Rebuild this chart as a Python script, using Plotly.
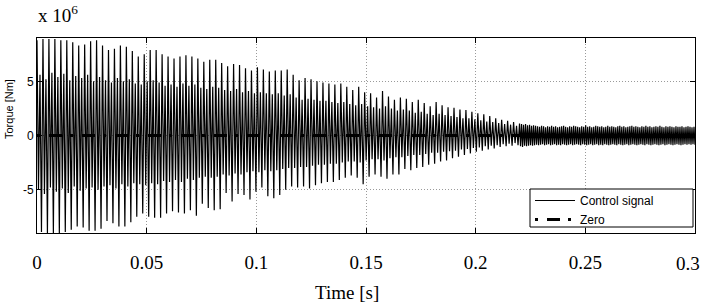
import numpy as np
import plotly.graph_objects as go

# Transient part (0 - 0.22 s): per-cycle extremes (units: 1e6 Nm)
peak_hi = [8.8, 8.9, 8.9, 8.9, 8.8, 8.8, 8.6, 8.3, 8.4, 8.7,
           8.8, 8.3, 7.9, 8.0, 8.3, 8.2, 7.8, 7.3, 7.5, 7.9,
           7.9, 7.5, 7.3, 7.1, 7.3, 7.4, 7.3, 7.1, 6.8, 7.0,
           7.0, 6.7, 6.4, 6.6, 6.5, 6.2, 6.0, 6.3, 6.1, 5.9,
           6.0, 6.0, 6.1, 5.6, 5.1, 5.3, 5.2, 5.0, 4.9, 4.8,
           4.7, 4.8, 4.5, 4.2, 4.5, 4.0, 3.9, 3.5, 4.1, 3.6,
           3.3, 3.5, 3.4, 3.1, 3.3, 3.0, 2.7, 3.1, 2.8, 2.6,
           2.55, 2.4, 2.35, 2.2, 2.05, 1.95, 1.8, 1.6, 1.45, 1.35,
           1.25]
peak_lo = [8.9, 9.0, 9.0, 9.0, 8.9, 8.7, 8.4, 8.5, 8.8, 8.8,
           8.6, 7.9, 8.1, 8.4, 8.4, 8.0, 7.5, 7.2, 7.5, 7.6,
           7.6, 7.2, 7.0, 7.1, 7.2, 6.9, 7.4, 6.3, 6.7, 6.9,
           6.8, 5.3, 6.1, 5.4, 5.5, 5.9, 5.2, 4.8, 5.6, 5.8,
           5.5, 5.0, 4.7, 4.8, 4.7, 4.9, 4.6, 4.4, 4.3, 4.3,
           4.1, 3.9, 3.7, 3.9, 4.5, 3.8, 3.6, 3.8, 4.0, 3.6,
           3.6, 3.1, 3.2, 3.0, 2.9, 2.7, 2.6, 2.4, 2.3, 2.1,
           1.95, 1.8, 1.65, 1.5, 1.4, 1.3, 1.2, 1.05, 1.0, 0.95,
           0.9]
inner_hi = [5.6, 5.2, 5.8, 5.4, 5.7, 5.1, 5.5, 5.3, 5.6, 5.0,
            5.4, 5.1, 4.9, 5.3, 5.0, 5.2, 4.8, 4.7, 5.0, 5.1,
            4.9, 4.6, 4.7, 4.5, 4.8, 4.6, 4.7, 4.4, 4.3, 4.5,
            4.4, 4.2, 4.1, 4.3, 4.0, 4.1, 3.9, 4.0, 3.9, 3.8,
            3.9, 3.7, 3.8, 3.5, 3.3, 3.4, 3.3, 3.2, 3.2, 3.1,
            3.0, 3.1, 2.9, 2.8, 2.9, 2.7, 2.6, 2.5, 2.7, 2.5,
            2.3, 2.4, 2.3, 2.1, 2.2, 2.0, 1.9, 2.0, 1.9, 1.8,
            1.7, 1.6, 1.6, 1.5, 1.4, 1.3, 1.25, 1.15, 1.05, 1.0,
            0.9]
inner_lo = [5.0, 5.4, 4.8, 5.2, 4.9, 5.3, 4.7, 5.1, 4.9, 4.8,
            5.0, 4.7, 4.6, 4.9, 4.5, 4.7, 4.4, 4.5, 4.6, 4.4,
            4.5, 4.2, 4.3, 4.1, 4.3, 4.0, 4.1, 3.9, 3.8, 3.9,
            3.8, 3.6, 3.7, 3.5, 3.6, 3.4, 3.3, 3.4, 3.2, 3.3,
            3.2, 3.1, 3.0, 3.0, 2.9, 2.9, 2.8, 2.7, 2.7, 2.6,
            2.6, 2.5, 2.4, 2.4, 2.5, 2.3, 2.2, 2.2, 2.3, 2.1,
            2.0, 2.0, 1.9, 1.8, 1.8, 1.7, 1.6, 1.6, 1.5, 1.45,
            1.4, 1.3, 1.25, 1.15, 1.1, 1.0, 0.95, 0.9, 0.8, 0.75,
            0.7]

# Steady part (0.22 - 0.3 s): alternating extremes (units: 1e6 Nm)
tail_hi = [1.1, 1.05, 1.0, 1.05, 0.95, 1.0, 0.9, 0.95, 0.9, 0.85,
           0.8, 0.9, 0.85, 0.75, 0.85, 0.8, 0.9, 0.8, 0.85, 0.75,
           0.8, 0.85, 0.9, 0.8, 0.75, 0.85, 0.8, 0.9, 0.85, 0.8,
           0.75, 0.85, 0.8, 0.95, 0.8, 0.85, 0.75, 0.8, 0.9, 0.85,
           0.8, 0.85, 0.75, 0.8, 0.9, 0.8, 0.85, 0.8, 0.75, 0.85,
           0.9, 0.8, 0.85, 0.75, 0.8, 0.85, 0.9, 0.8, 0.85, 0.8,
           0.75, 0.85, 0.8, 0.9, 0.8, 0.85, 0.75, 0.8, 0.85, 0.8,
           0.9, 0.8, 0.75, 0.85, 0.8, 0.85, 0.8, 0.75, 0.85, 0.8,
           0.8, 0.85, 0.75, 0.8, 0.85, 0.8, 0.75, 0.8]
tail_lo = [1.0, 1.05, 0.95, 1.0, 0.95, 0.9, 0.95, 0.9, 0.85, 0.9,
           0.85, 0.8, 0.9, 0.85, 0.8, 0.9, 0.85, 0.8, 0.9, 0.85,
           0.9, 0.8, 0.85, 0.9, 0.85, 0.8, 0.9, 0.85, 0.8, 0.85,
           0.9, 0.8, 0.85, 0.9, 0.85, 0.8, 0.9, 0.85, 0.8, 0.9,
           0.85, 0.9, 0.8, 0.85, 0.9, 0.85, 0.8, 0.85, 0.9, 0.8,
           0.85, 0.9, 0.85, 0.8, 0.9, 0.85, 0.8, 0.85, 0.9, 0.85,
           0.8, 0.85, 0.9, 0.8, 0.85, 0.9, 0.85, 0.8, 0.85, 0.9,
           0.85, 0.8, 0.9, 0.85, 0.8, 0.85, 0.9, 0.85, 0.8, 0.85,
           0.9, 0.85, 0.8, 0.85, 0.8, 0.85, 0.8, 0.85]

t_start, t_split, t_end = 0.0, 0.22, 0.3
x_ticks = [0, 0.05, 0.1, 0.15, 0.2, 0.25, 0.3]
x_tick_labels = ["0", "0.05", "0.1", "0.15", "0.2", "0.25", "0.3"]
y_ticks = [-5, 0, 5]
y_tick_labels = ["-5", "0", "5"]
y_limits = [-9, 9]
unit = 1e6

n1 = min(len(peak_hi), len(peak_lo), len(inner_hi), len(inner_lo))
part1 = []
for i in range(n1):
    part1 += [peak_hi[i], -inner_lo[i], inner_hi[i], -peak_lo[i]]
n2 = min(len(tail_hi), len(tail_lo))
part2 = []
for i in range(n2):
    part2 += [tail_hi[i], -tail_lo[i]]
t1 = np.linspace(t_start, t_split, len(part1), endpoint=False)
t2 = np.linspace(t_split, t_end, len(part2))
t = np.concatenate([t1, t2])
signal = np.array(part1 + part2) * unit
zero = np.zeros(2)
t_zero = np.array([t_start, t_end])

W, H = 702, 307
ml, mr, mt, mb = 37, 7, 38, 74
pw, ph = W - ml - mr, H - mt - mb

def px(xp):
    return (xp - ml) / pw

def py(yp):
    return (H - mb - yp) / ph

serif = "Liberation Serif, Times New Roman, serif"
sans = "Liberation Sans, Arial, sans-serif"

fig = go.Figure()
fig.add_trace(go.Scatter(x=t, y=signal, mode="lines", name="Control signal",
                         line=dict(color="black", width=1.2)))
fig.add_trace(go.Scatter(x=t_zero, y=zero, mode="lines", name="Zero",
                         line=dict(color="black", width=3, dash="3px,9px,13px,8px")))

axis_common = dict(showline=True, linecolor="black", linewidth=1, mirror="ticks",
                   ticks="inside", ticklen=5, tickcolor="black", showgrid=True,
                   gridcolor="#9a9a9a", griddash="1px,2px", gridwidth=1, zeroline=False,
                   automargin=False)

# last x label is drawn as a right-aligned annotation so it stays inside the page
shown_x_labels = x_tick_labels[:-1] + [""]
fig.update_xaxes(range=[t_start, t_end], tickvals=x_ticks, ticktext=shown_x_labels,
                 tickfont=dict(family=serif, size=19, color="black"),
                 ticklabelstandoff=12, **axis_common)
fig.update_yaxes(range=[y_limits[0] * unit, y_limits[1] * unit],
                 tickvals=[v * unit for v in y_ticks], ticktext=y_tick_labels,
                 tickfont=dict(family=sans, size=12, color="black"),
                 **axis_common)

fig.add_shape(type="rect", xref="paper", yref="paper",
              x0=px(530), x1=px(693), y0=py(227), y1=py(189),
              line=dict(color="black", width=1), fillcolor="white", layer="above")

fig.update_layout(
    width=W, height=H, margin=dict(l=ml, r=mr, t=mt, b=mb),
    paper_bgcolor="white", plot_bgcolor="white",
    showlegend=True,
    legend=dict(x=px(530), y=py(186), xanchor="left", yanchor="top",
                bgcolor="rgba(0,0,0,0)", borderwidth=0, itemwidth=40,
                font=dict(family=sans, size=12, color="black"),
                tracegroupgap=0),
    annotations=[
        dict(text=x_tick_labels[-1], xref="x", yref="paper", x=x_ticks[-1], y=py(263),
             xanchor="right", yanchor="middle", xshift=7, showarrow=False,
             font=dict(family=serif, size=19, color="black")),
        dict(text="Time [s]", xref="paper", yref="paper", x=px(347), y=py(292),
             xanchor="center", yanchor="middle", showarrow=False,
             font=dict(family=serif, size=19, color="black")),
        dict(text="Torque [Nm]", xref="paper", yref="paper", x=px(9), y=py(109),
             xanchor="center", yanchor="middle", showarrow=False, textangle=-90,
             font=dict(family=sans, size=11, color="black")),
        dict(text="x 10<sup>6</sup>", xref="paper", yref="paper", x=px(36), y=py(14),
             xanchor="left", yanchor="middle", showarrow=False,
             font=dict(family=serif, size=19, color="black")),
    ],
)

fig.write_html("out.html", config={"displayModeBar": False},
               post_script="document.body.style.margin='0';document.body.style.padding='0';")
